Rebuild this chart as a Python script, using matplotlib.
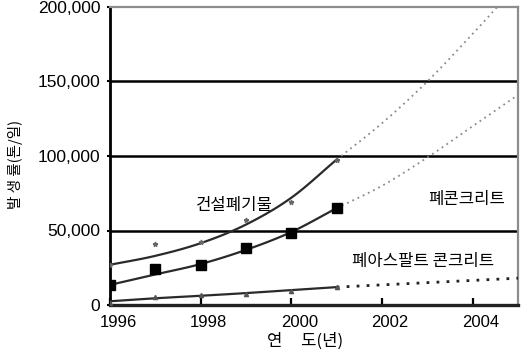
import numpy as np
import matplotlib
matplotlib.use('Agg')
import matplotlib.pyplot as plt
import matplotlib.transforms as mtransforms

# ---- data ----
years = [1996, 1997, 1998, 1999, 2000, 2001]
construction_waste = [27000, 41000, 42000, 57000, 69000, 97600]
waste_concrete = [13500, 24000, 27000, 38400, 48500, 65000]
waste_asphalt = [1500, 5500, 6500, 7500, 9500, 12000]

# fitted trend curves (solid part)
trend_years = [1996, 1997, 1998, 1999, 2000, 2001]
construction_trend = [27000, 33000, 41500, 54000, 72000, 97600]
concrete_trend = [13500, 20500, 27500, 37000, 49000, 65000]
asphalt_trend = [2500, 4500, 6200, 8000, 10000, 12000]

# forecast (dotted part)
cw_forecast_years = [2001, 2002, 2003, 2004, 2004.6]
construction_forecast = [97600, 122000, 150000, 182000, 202000]
forecast_years = [2001, 2002, 2003, 2004, 2005]
concrete_forecast = [65000, 80000, 99000, 120000, 141000]
asphalt_forecast = [12000, 13500, 15000, 16500, 18000]

x_ticks = [1996, 1998, 2000, 2002, 2004]
y_ticks = [0, 50000, 100000, 150000, 200000]
y_tick_labels = ['0', '50,000', '100,000', '150,000', '200,000']

label_cw = '건설폐기물'
label_wc = '폐콘크리트'
label_wa = '폐아스팔트 콘크리트'
x_label = '연     도(년)'
y_label = '발 생 률(톤/일)'

KFONT = ['Noto Sans CJK KR', 'DejaVu Sans']
NFONT = ['Liberation Sans', 'DejaVu Sans']


def smooth(x, y, n=24):
    P = np.column_stack([np.asarray(x, float), np.asarray(y, float)])
    P = np.vstack([2 * P[0] - P[1], P, 2 * P[-1] - P[-2]])
    out = []
    t = np.linspace(0, 1, n, endpoint=False)[:, None]
    for i in range(1, len(P) - 2):
        p0, p1, p2, p3 = P[i - 1], P[i], P[i + 1], P[i + 2]
        pts = 0.5 * ((2 * p1) + (-p0 + p2) * t + (2 * p0 - 5 * p1 + 4 * p2 - p3) * t ** 2
                     + (-p0 + 3 * p1 - 3 * p2 + p3) * t ** 3)
        out.append(pts)
    out.append(P[-2][None, :])
    a = np.vstack(out)
    return a[:, 0], a[:, 1]


fig = plt.figure(figsize=(5.22, 3.60), dpi=100)
ax = fig.add_axes([110 / 522, 55 / 360, 408 / 522, 298 / 360])
ax.set_xlim(1996, 2005)
ax.set_ylim(0, 200000)

# grid lines
for v in y_ticks[1:-1]:
    ax.axhline(v, color='black', lw=1.8, zorder=1)

# trend curves
for xs, ys in [(trend_years, construction_trend), (trend_years, concrete_trend),
               (trend_years, asphalt_trend)]:
    sx, sy = smooth(xs, ys)
    ax.plot(sx, sy, color='#2a2a2a', lw=1.6, zorder=3)

# forecasts
sx, sy = smooth(cw_forecast_years, construction_forecast)
ax.plot(sx, sy, color='#8a8a8a', lw=1.3, ls=(0, (1, 2.2)), zorder=3)
sx, sy = smooth(forecast_years, concrete_forecast)
ax.plot(sx, sy, color='#8a8a8a', lw=1.3, ls=(0, (1, 2.2)), zorder=3)
sx, sy = smooth(forecast_years, asphalt_forecast)
ax.plot(sx, sy, color='#222222', lw=2.0, ls=(0, (1, 2.6)), zorder=3)

# markers
ax.plot(years, construction_waste, ls='none', marker='*', ms=3.5, color='#666666', zorder=4)
ax.plot(years, waste_concrete, ls='none', marker='s', ms=6.5, color='black', zorder=4)
ax.plot(years, waste_asphalt, ls='none', marker='^', ms=3, color='#555555', zorder=4)

# annotations
ax.text(1998.75, 66500, label_cw, family=KFONT, fontsize=12, ha='center', va='center')
ax.text(2003.87, 71000, label_wc, family=KFONT, fontsize=12, ha='center', va='center')
ax.text(2002.9, 29000, label_wa, family=KFONT, fontsize=12, ha='center', va='center')

# spines
ax.spines['left'].set_linewidth(2.0)
ax.spines['left'].set_color('black')
ax.spines['bottom'].set_linewidth(2.4)
ax.spines['bottom'].set_color('#222222')
for s in ['top', 'right']:
    ax.spines[s].set_linewidth(1.6)
    ax.spines[s].set_color('#8c8c8c')

ax.set_xticks(x_ticks)
ax.set_xticklabels([str(v) for v in x_ticks], family=NFONT, fontsize=12)
ax.set_yticks(y_ticks)
ax.set_yticklabels(y_tick_labels, family=NFONT, fontsize=12.5)
ax.tick_params(axis='x', direction='in', length=5, width=1.6, pad=7, color='black')
ax.tick_params(axis='y', direction='out', length=2, width=1.5, pad=5)

offset = mtransforms.ScaledTranslation(8 / 100, 0, fig.dpi_scale_trans)
for lab in ax.get_xticklabels():
    lab.set_transform(lab.get_transform() + offset)

fig.text(305 / 522, 1 - 341 / 360, x_label, family=KFONT, fontsize=12,
         ha='center', va='center')
fig.text(16 / 522, 1 - 164 / 360, y_label, family=KFONT, fontsize=10.5,
         ha='center', va='center', rotation=90)

fig.savefig('out.png', dpi=100)
